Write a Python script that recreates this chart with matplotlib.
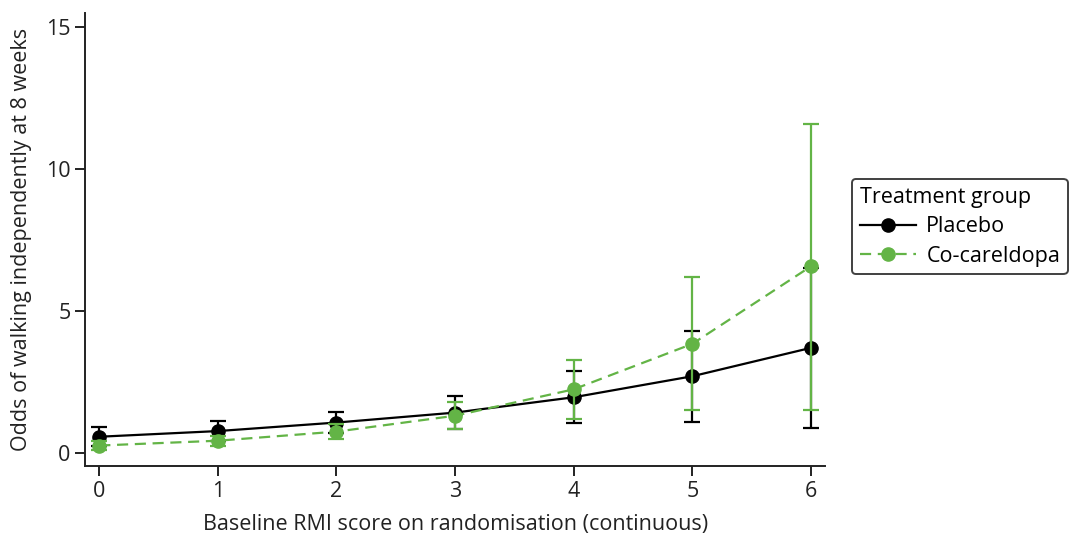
import matplotlib
matplotlib.use("Agg")
import matplotlib.pyplot as plt

plt.rcParams['font.family'] = ['Open Sans', 'DejaVu Sans']

rmi = [0, 1, 2, 3, 4, 5, 6]

placebo_odds = [0.57, 0.77, 1.07, 1.42, 1.96, 2.70, 3.70]
placebo_lo = [0.24, 0.43, 0.71, 0.85, 1.07, 1.09, 0.89]
placebo_hi = [0.90, 1.11, 1.43, 1.99, 2.87, 4.30, 6.51]

cocar_odds = [0.26, 0.43, 0.75, 1.31, 2.24, 3.84, 6.57]
cocar_lo = [0.10, 0.25, 0.48, 0.83, 1.21, 1.50, 1.50]
cocar_hi = [0.42, 0.61, 1.02, 1.79, 3.27, 6.18, 11.59]

y_ticks = [0, 5, 10, 15]
x_ticks = [0, 1, 2, 3, 4, 5, 6]

BLACK = '#000000'
GREEN = '#63b446'
INK = '#222222'
FS = 15.5

fig = plt.figure(figsize=(10.78, 5.35), dpi=100)
ax = fig.add_axes([0.0789, 0.129, 0.6865, 0.847])


def draw_series(odds, lo, hi, color, style, label, z):
    yerr = [[o - l for o, l in zip(odds, lo)], [h - o for o, h in zip(odds, hi)]]
    ax.errorbar(rmi, odds, yerr=yerr, fmt='none', ecolor=color, elinewidth=1.6,
                capsize=6, capthick=1.6, zorder=z)
    ax.plot(rmi, odds, color=color, linestyle=style, linewidth=1.6,
            marker='o', markersize=9.5, markerfacecolor=color,
            markeredgecolor=color, label=label, zorder=z + 0.5)


draw_series(placebo_odds, placebo_lo, placebo_hi, BLACK, '-', 'Placebo', 2)
draw_series(cocar_odds, cocar_lo, cocar_hi, GREEN, (0, (5, 3)), 'Co-careldopa', 4)

ax.set_xlim(-0.12, 6.12)
ax.set_ylim(-0.46, 15.5)
ax.set_xticks(x_ticks)
ax.set_yticks(y_ticks)
ax.spines['top'].set_visible(False)
ax.spines['right'].set_visible(False)
for s in ('left', 'bottom'):
    ax.spines[s].set_linewidth(1.4)
    ax.spines[s].set_color(INK)
ax.tick_params(axis='both', direction='out', length=7, width=1.4,
               labelsize=FS, colors=INK, labelcolor=INK)
ax.set_xlabel('Baseline RMI score on randomisation (continuous)', fontsize=FS,
              color=INK, labelpad=9)
ax.set_ylabel('Odds of walking independently at 8 weeks', fontsize=FS,
              color=INK, labelpad=10)

leg = fig.legend(loc='upper left', bbox_to_anchor=(852 / 1078, 1 - 179 / 535),
                 title='Treatment group', fontsize=FS, title_fontsize=FS,
                 frameon=True, fancybox=True, edgecolor='#111111',
                 handlelength=2.6, handletextpad=0.5, borderpad=0.35,
                 labelspacing=0.4, borderaxespad=0)
leg._legend_box.align = 'left'
leg.get_frame().set_linewidth(1.4)

fig.savefig('out.png', dpi=100)
